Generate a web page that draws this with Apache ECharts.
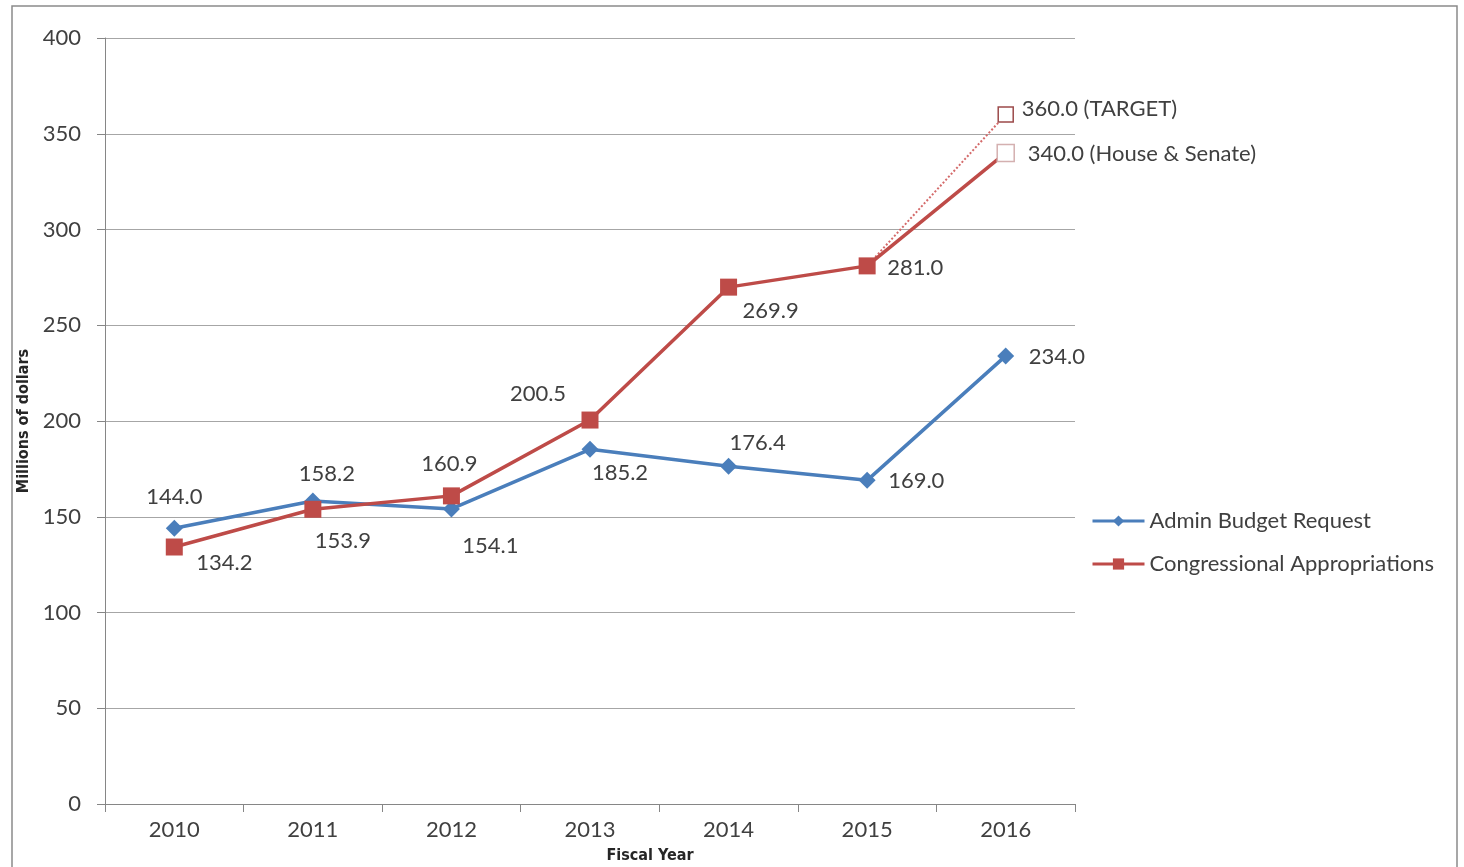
<!DOCTYPE html>
<html>
<head>
<meta charset="utf-8">
<script src="https://cdn.jsdelivr.net/npm/echarts@6/dist/echarts.min.js"></script>
<style>html,body{margin:0;padding:0;background:#fff;}#c{width:1464px;height:867px;}</style>
</head>
<body>
<div id="c"></div>
<script>
const categories = ['2010','2011','2012','2013','2014','2015','2016'];
const adminBudget = [144.0, 158.2, 154.1, 185.2, 176.4, 169.0, 234.0];
const congressional = [134.2, 153.9, 160.9, 200.5, 269.9, 281.0, 340.0];
const target = [null, null, null, null, null, 281.0, 360.0];
const yTicks = [0, 50, 100, 150, 200, 250, 300, 350, 400];
const seriesNames = ['Admin Budget Request', 'Congressional Appropriations', 'Target'];
const suffix2016Congress = ' (House & Senate)';
const suffixTarget = ' (TARGET)';

// label placement (pixel offsets from marker centre), styling only
const blueLabelPos = [[0,-31,'c'],[14,-27,'c'],[39,37,'c'],[30,24,'c'],[29,-23,'c'],[21,1,'l'],[23,1,'l']];
const redLabelPos = [[50,16,'c'],[30,32,'c'],[-2,-32,'c'],[-52,-26,'c'],[42,24,'c'],[20,2,'l'],[22,1,'l']];

const FONT = 'Lato';
const TXT = '#404040';
const BLUE = '#4a7ebb';
const RED = '#be4b48';
const FS = 22;

function lbl(p, text) {
  return {
    show: true, position: 'inside', offset: [p[0], p[1]],
    align: p[2] === 'l' ? 'left' : 'center', verticalAlign: 'middle',
    color: TXT, fontFamily: FONT, fontSize: FS,
    formatter: text
  };
}

const blueData = adminBudget.map((v, i) => ({ value: v, label: lbl(blueLabelPos[i], v.toFixed(1)) }));
const redData = congressional.map((v, i) => {
  const item = { value: v, label: lbl(redLabelPos[i], v.toFixed(1) + (i === 6 ? suffix2016Congress : '')) };
  if (i === 6) item.itemStyle = { color: '#ffffff', borderColor: '#d4b0b0', borderWidth: 1.5 };
  return item;
});
const targetData = target.map((v, i) => {
  if (v === null) return null;
  if (i === 6) return { value: v, symbol: 'rect', symbolSize: 15,
    itemStyle: { color: '#ffffff', borderColor: '#9c4a4a', borderWidth: 1.5 },
    label: lbl([16,-6,'l'], v.toFixed(1) + suffixTarget) };
  return { value: v, symbol: 'none', label: { show: false } };
});

const chart = echarts.init(document.getElementById('c'));
chart.setOption({
  animation: false,
  backgroundColor: '#ffffff',
  graphic: [
    { type: 'rect', shape: { x: 12, y: 6, width: 1445, height: 880 }, style: { fill: 'none', stroke: '#8a8a8a', lineWidth: 1.5 }, silent: true },
    { type: 'text', x: 650, y: 856, style: { text: 'Fiscal Year', align: 'center', verticalAlign: 'middle', font: 'bold 16px "Liberation Sans Narrow", "DejaVu Sans Condensed", sans-serif', fill: '#262626' } }
  ],
  grid: { left: 105, right: 389, top: 38, bottom: 63, containLabel: false },
  legend: {
    data: [seriesNames[0], seriesNames[1]],
    orient: 'vertical', left: 1086, top: 505, padding: 5,
    itemWidth: 52, itemHeight: 14, itemGap: 21,
    lineStyle: { width: 3 },
    textStyle: { color: TXT, fontFamily: FONT, fontSize: FS, lineHeight: 22 }
  },
  xAxis: {
    type: 'category', data: categories, boundaryGap: true,
    axisLine: { lineStyle: { color: '#868686', width: 1 } },
    axisTick: { show: true, length: 8, lineStyle: { color: '#868686' } },
    axisLabel: { color: TXT, fontFamily: FONT, fontSize: FS, margin: 15 }
  },
  yAxis: {
    type: 'value', min: 0, max: 400, interval: 50,
    name: 'Millions of dollars', nameLocation: 'middle', nameGap: 69, nameRotate: 90,
    nameTextStyle: { color: '#262626', fontWeight: 'bold', fontSize: 16, fontFamily: '"Liberation Sans Narrow", "DejaVu Sans Condensed", sans-serif' },
    axisLine: { show: true, lineStyle: { color: '#868686', width: 1 } },
    axisTick: { show: true, length: 8, lineStyle: { color: '#868686' } },
    axisLabel: { color: TXT, fontFamily: FONT, fontSize: FS, margin: 24,
      formatter: v => yTicks.includes(v) ? String(v) : '' },
    splitLine: { lineStyle: { color: '#a6a6a6', width: 1 } }
  },
  series: [
    { name: seriesNames[0], type: 'line', data: blueData, symbol: 'diamond', symbolSize: 17,
      lineStyle: { color: BLUE, width: 3.5 }, itemStyle: { color: BLUE }, z: 2 },
    { name: seriesNames[2], type: 'line', data: targetData, connectNulls: false, symbol: 'rect', symbolSize: 15,
      lineStyle: { color: '#d46a6a', width: 2, type: 'dotted' }, itemStyle: { color: '#d46a6a' }, z: 3 },
    { name: seriesNames[1], type: 'line', data: redData, symbol: 'rect', symbolSize: 17,
      lineStyle: { color: RED, width: 3.5 }, itemStyle: { color: RED }, z: 4 }
  ]
});
</script>
</body>
</html>
